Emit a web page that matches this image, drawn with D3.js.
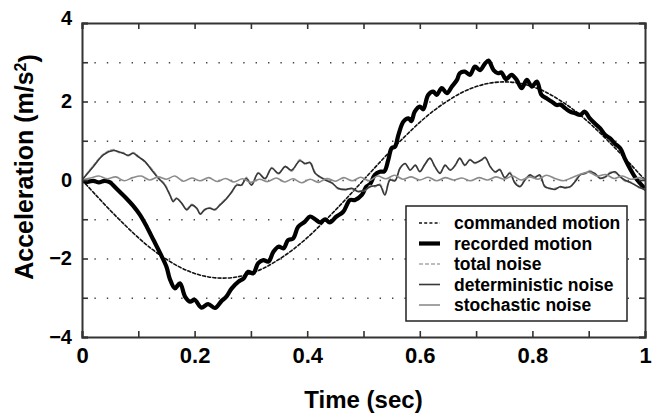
<!DOCTYPE html>
<html>
<head>
<meta charset="utf-8">
<script src="https://cdn.jsdelivr.net/npm/d3@7"></script>
<style>
  body { margin: 0; background: #fff; }
  svg { display: block; font-family: "Liberation Sans", Arial, sans-serif; font-weight: bold; }
</style>
</head>
<body>
<div id="chart"></div>
<script>
// commanded motion (dashed black)
var cmdT = [0, 0.025, 0.05, 0.075, 0.1, 0.125, 0.15, 0.175, 0.2, 0.225, 0.25, 0.275, 0.3, 0.325, 0.35, 0.375, 0.4, 0.425, 0.45, 0.475,
            0.5, 0.525, 0.55, 0.575, 0.6, 0.625, 0.65, 0.675, 0.7, 0.725, 0.75, 0.775, 0.8, 0.825, 0.85, 0.875, 0.9, 0.925, 0.95, 0.975, 1];
var cmdV = [0, -0.39, -0.77, -1.13, -1.47, -1.77, -2.02, -2.23, -2.38, -2.47, -2.5, -2.47, -2.38, -2.23, -2.02, -1.77, -1.47, -1.13, -0.77, -0.39,
            0, 0.39, 0.77, 1.13, 1.47, 1.77, 2.02, 2.23, 2.38, 2.47, 2.5, 2.47, 2.38, 2.23, 2.02, 1.77, 1.47, 1.13, 0.77, 0.39, 0];

// recorded motion (thick black)
var recT = [0, 0.01, 0.02, 0.03, 0.04, 0.05, 0.055, 0.067, 0.079, 0.091, 0.103, 0.115, 0.127, 0.139, 0.15, 0.156, 0.165, 0.174, 0.183, 0.192,
            0.2, 0.212, 0.224, 0.236, 0.248, 0.256, 0.266, 0.278, 0.287, 0.295, 0.304, 0.313, 0.322, 0.331, 0.34, 0.349, 0.358, 0.366, 0.375, 0.384,
            0.396, 0.405, 0.414, 0.423, 0.432, 0.44, 0.452, 0.464, 0.476, 0.485, 0.497, 0.505, 0.512, 0.52, 0.529, 0.537, 0.544, 0.55, 0.556, 0.562,
            0.571, 0.58, 0.585, 0.591, 0.6, 0.606, 0.615, 0.624, 0.63, 0.639, 0.648, 0.657, 0.666, 0.671, 0.68, 0.689, 0.698, 0.707, 0.716, 0.722,
            0.731, 0.739, 0.745, 0.753, 0.763, 0.772, 0.781, 0.79, 0.799, 0.808, 0.816, 0.825, 0.834, 0.843, 0.85, 0.858, 0.867, 0.876, 0.885, 0.893,
            0.902, 0.911, 0.92, 0.929, 0.938, 0.947, 0.956, 0.964, 0.973, 0.982, 0.991, 1];
var recV = [-0.02, -0.05, -0.02, -0.06, -0.02, -0.06, -0.13, -0.3, -0.47, -0.66, -0.89, -1.19, -1.53, -1.87, -2.21, -2.52, -2.76, -2.63, -2.97, -3.1,
            -3.05, -3.25, -3.16, -3.26, -3.08, -2.98, -2.76, -2.59, -2.51, -2.34, -2.38, -2.12, -2.04, -2.08, -1.83, -1.7, -1.74, -1.53, -1.49, -1.19,
            -1.06, -0.93, -1.0, -1.08, -1.0, -1.08, -0.93, -0.81, -0.51, -0.51, -0.38, -0.17, -0.1, 0.13, 0.21, 0.22, 0.51, 0.81, 0.85, 1.15,
            1.49, 1.57, 1.5, 1.74, 1.87, 1.8, 2.17, 2.25, 2.17, 2.34, 2.21, 2.38, 2.55, 2.72, 2.76, 2.68, 2.89, 2.8, 2.97, 3.04,
            2.8, 2.72, 2.74, 2.57, 2.68, 2.55, 2.34, 2.55, 2.38, 2.51, 2.17, 2.08, 2.0, 1.91, 1.92, 1.83, 1.74, 1.7, 1.66, 1.74,
            1.57, 1.44, 1.32, 1.15, 1.06, 0.92, 0.81, 0.55, 0.3, 0.08, -0.08, -0.22];

// deterministic and total noise share the same time samples
var noiseT = [0, 0.02, 0.038, 0.056, 0.065, 0.073, 0.082, 0.091, 0.1, 0.112, 0.124, 0.136, 0.147, 0.156, 0.162, 0.168, 0.177, 0.186, 0.195, 0.204,
              0.21, 0.218, 0.227, 0.236, 0.245, 0.257, 0.266, 0.275, 0.283, 0.292, 0.301, 0.313, 0.325, 0.337, 0.349, 0.361, 0.372, 0.387, 0.396, 0.405,
              0.414, 0.423, 0.432, 0.444, 0.455, 0.467, 0.479, 0.491, 0.503, 0.512, 0.52, 0.529, 0.538, 0.547, 0.556, 0.565, 0.574, 0.583, 0.592, 0.6,
              0.609, 0.618, 0.627, 0.636, 0.645, 0.654, 0.663, 0.671, 0.68, 0.689, 0.698, 0.71, 0.716, 0.725, 0.734, 0.742, 0.751, 0.76, 0.769, 0.778,
              0.787, 0.796, 0.804, 0.813, 0.822, 0.831, 0.84, 0.849, 0.858, 0.867, 0.876, 0.885, 0.893, 0.902, 0.911, 0.92, 0.929, 0.938, 0.947, 0.956,
              0.964, 0.976, 0.988, 1];
var detV = [0, 0.34, 0.64, 0.75, 0.72, 0.68, 0.63, 0.68, 0.59, 0.47, 0.25, 0.04, -0.13, -0.38, -0.55, -0.47, -0.59, -0.76, -0.64, -0.72,
            -0.87, -0.75, -0.72, -0.75, -0.64, -0.47, -0.3, -0.13, -0.13, 0.04, -0.13, 0.17, 0.04, 0.3, 0.17, 0.34, 0.25, 0.49, 0.42, 0.44,
            0.17, 0.08, 0.0, -0.08, -0.21, -0.25, -0.21, -0.3, -0.25, -0.17, -0.15, -0.13, -0.38, 0.0, -0.02, 0.3, 0.42, 0.25, 0.38, 0.21,
            0.4, 0.55, 0.34, 0.17, 0.38, 0.25, 0.38, 0.55, 0.38, 0.51, 0.44, 0.51, 0.58, 0.34, 0.21, 0.26, 0.06, 0.17, -0.08, -0.17,
            0.0, 0.13, 0.06, 0.13, -0.17, -0.21, -0.24, -0.17, -0.2, -0.17, -0.04, 0.13, 0.17, 0.21, 0.17, 0.04, 0.08, 0.17, 0.21, 0.08,
            0.0, -0.08, -0.17, -0.25];
var totV = [0, 0.37, 0.66, 0.78, 0.7, 0.7, 0.61, 0.7, 0.61, 0.45, 0.28, 0.06, -0.1, -0.36, -0.52, -0.45, -0.6, -0.73, -0.62, -0.74,
            -0.85, -0.77, -0.7, -0.77, -0.62, -0.45, -0.32, -0.1, -0.15, 0.07, -0.11, 0.19, 0.02, 0.32, 0.15, 0.36, 0.22, 0.52, 0.4, 0.46,
            0.2, 0.06, 0.03, -0.06, -0.23, -0.22, -0.24, -0.27, -0.27, -0.14, -0.18, -0.1, -0.35, 0.03, 0.0, 0.32, 0.4, 0.27, 0.36, 0.23,
            0.38, 0.57, 0.32, 0.2, 0.36, 0.27, 0.36, 0.57, 0.36, 0.53, 0.42, 0.53, 0.56, 0.36, 0.19, 0.28, 0.04, 0.2, -0.05, -0.15,
            0.03, 0.1, 0.09, 0.1, -0.14, -0.23, -0.21, -0.19, -0.17, -0.19, -0.01, 0.15, 0.15, 0.24, 0.14, 0.06, 0.06, 0.2, 0.18, 0.1,
            -0.03, -0.06, -0.19, -0.23];

// stochastic noise (light grey solid)
var stoT = [0, 0.015, 0.03, 0.045, 0.06, 0.075, 0.09, 0.105, 0.12, 0.135, 0.15, 0.165, 0.18, 0.195, 0.21, 0.225, 0.24, 0.255, 0.27, 0.285,
            0.3, 0.315, 0.33, 0.345, 0.36, 0.375, 0.39, 0.405, 0.42, 0.435, 0.45, 0.465, 0.48, 0.495, 0.51, 0.525, 0.54, 0.555, 0.57, 0.585,
            0.6, 0.615, 0.63, 0.645, 0.66, 0.675, 0.69, 0.705, 0.72, 0.735, 0.75, 0.765, 0.78, 0.795, 0.81, 0.825, 0.84, 0.855, 0.87, 0.885,
            0.9, 0.915, 0.93, 0.945, 0.96, 0.975, 0.99, 1];
var stoV = [0, 0.05, 0.1, 0.03, 0.08, -0.02, 0.06, 0.1, 0.0, 0.08, 0.02, 0.1, -0.03, 0.05, -0.02, 0.06, -0.04, 0.04, -0.05, 0.03,
            -0.06, 0.02, -0.04, 0.05, -0.05, 0.03, -0.07, 0.02, -0.06, 0.04, -0.03, 0.06, -0.02, 0.07, -0.02, 0.1, 0.03, 0.12, 0.02, 0.08,
            0.0, 0.07, -0.02, 0.06, 0.0, 0.05, -0.02, 0.06, 0.0, 0.08, 0.02, 0.1, 0.0, 0.08, 0.02, 0.12, 0.04, -0.02, 0.06, 0.14,
            0.2, 0.1, 0.14, 0.04, 0.1, 0.02, 0.06, 0.0];

var xTickVals = [0, 0.1, 0.2, 0.3, 0.4, 0.5, 0.6, 0.7, 0.8, 0.9, 1];
var xTickLabels = ["0", "", "0.2", "", "0.4", "", "0.6", "", "0.8", "", "1"];
var yTickVals = [-4, -3, -2, -1, 0, 1, 2, 3, 4];
var yTickLabels = ["\u22124", "", "\u22122", "", "0", "", "2", "", "4"];
var gridVals = [-3, -2, -1, 0, 1, 2, 3];

var legendNames = ["commanded motion", "recorded motion", "total noise", "deterministic noise", "stochastic noise"];

var width = 652, height = 417;
var margin = {left: 82, right: 7, top: 23, bottom: 80};
var plot_w = width - margin.left - margin.right;
var plot_h = height - margin.top - margin.bottom;

var x_scale = d3.scaleLinear().domain([0, 1]).range([0, plot_w]);
var y_scale = d3.scaleLinear().domain([-4, 4]).range([plot_h, 0]);

var svg = d3.select('#chart').append('svg')
    .attr('width', width)
    .attr('height', height);

var g = svg.append('g')
    .attr('transform', 'translate(' + margin.left + ',' + margin.top + ')');

g.append('defs').append('clipPath').attr('id', 'clip')
  .append('rect').attr('width', plot_w).attr('height', plot_h);

// dotted horizontal grid
var grid = g.append('g')
    .call(d3.axisLeft(y_scale).tickValues(gridVals).tickSize(-plot_w).tickFormat(''));
grid.select('.domain').remove();
grid.selectAll('line')
    .attr('stroke', '#444')
    .attr('stroke-width', 1.4)
    .attr('stroke-dasharray', '1.4,11');

function pts(ts, vs) {
    return ts.map(function(t, i) { return [t, vs[i]]; });
}

var line = d3.line()
    .x(function(d) { return x_scale(d[0]); })
    .y(function(d) { return y_scale(d[1]); })
    .curve(d3.curveCatmullRom.alpha(0.5));

var series = [
    {data: pts(cmdT, cmdV), stroke: '#111', width: 1.6, dash: '3,2.2'},
    {data: pts(recT, recV), stroke: '#000', width: 4.2, dash: null},
    {data: pts(noiseT, totV), stroke: '#a8a8a8', width: 1.5, dash: '4,2'},
    {data: pts(noiseT, detV), stroke: '#383838', width: 1.6, dash: null},
    {data: pts(stoT, stoV), stroke: '#8c8c8c', width: 1.6, dash: null}
];

var curves = g.append('g').attr('clip-path', 'url(#clip)');
curves.selectAll('path')
    .data(series)
    .enter().append('path')
    .attr('fill', 'none')
    .attr('stroke', function(d) { return d.stroke; })
    .attr('stroke-width', function(d) { return d.width; })
    .attr('stroke-dasharray', function(d) { return d.dash; })
    .attr('stroke-linejoin', 'round')
    .attr('stroke-linecap', 'round')
    .attr('d', function(d) { return line(d.data); });

// axes, ticks pointing inward
var axisColor = '#333';
var x_bottom = g.append('g')
    .attr('transform', 'translate(0,' + plot_h + ')')
    .call(d3.axisBottom(x_scale).tickValues(xTickVals).tickSize(-6).tickPadding(10.5)
          .tickFormat(function(d, i) { return xTickLabels[i]; }));
var x_top = g.append('g')
    .call(d3.axisTop(x_scale).tickValues(xTickVals).tickSize(-6).tickFormat(''));
var y_left = g.append('g')
    .call(d3.axisLeft(y_scale).tickValues(yTickVals).tickSize(-6).tickPadding(10)
          .tickFormat(function(d, i) { return yTickLabels[i]; }));
var y_right = g.append('g')
    .attr('transform', 'translate(' + plot_w + ',0)')
    .call(d3.axisRight(y_scale).tickValues(yTickVals).tickSize(-6).tickFormat(''));

[x_bottom, x_top, y_left, y_right].forEach(function(a) {
    a.selectAll('.domain').attr('stroke', axisColor).attr('stroke-width', 2);
    a.selectAll('.tick line').attr('stroke', axisColor).attr('stroke-width', 1.6);
    a.selectAll('text').attr('fill', '#000')
        .style('font-family', '"Liberation Sans", Arial, sans-serif')
        .style('font-weight', 'bold');
});
x_bottom.selectAll('text').style('font-size', '22px');
y_left.selectAll('text').style('font-size', '20px');
// top label sits a little higher than its tick
y_left.selectAll('.tick').filter(function(d) { return d === 4; }).select('text').attr('dy', '0.05em');

// axis titles
svg.append('text')
    .attr('x', margin.left + plot_w / 2)
    .attr('y', 408)
    .attr('text-anchor', 'middle')
    .style('font-size', '24px')
    .text('Time (sec)');

var ytitle = svg.append('text')
    .attr('transform', 'translate(33,' + 167 + ') rotate(-90)')
    .attr('text-anchor', 'middle')
    .style('font-size', '25px');
ytitle.append('tspan').text('Acceleration (m/s');
ytitle.append('tspan').attr('dy', '-0.45em').style('font-size', '16px').text('2');
ytitle.append('tspan').attr('dy', '0.45em').text(')');

// legend
var legend = svg.append('g').attr('transform', 'translate(406,206)');
legend.append('rect')
    .attr('width', 221)
    .attr('height', 115)
    .attr('fill', '#fff')
    .attr('stroke', '#222')
    .attr('stroke-width', 1.5);

var rows = legend.selectAll('.row')
    .data(series)
    .enter().append('g')
    .attr('class', 'row')
    .attr('transform', function(d, i) { return 'translate(0,' + (17 + i * 20.5) + ')'; });

rows.append('line')
    .attr('x1', 13).attr('x2', 34)
    .attr('stroke', function(d) { return d.stroke; })
    .attr('stroke-width', function(d) { return d.width; })
    .attr('stroke-dasharray', function(d) { return d.dash; });

rows.append('text')
    .attr('x', 48)
    .attr('dy', '0.36em')
    .style('font-size', '17.5px')
    .text(function(d, i) { return legendNames[i]; });
</script>
</body>
</html>
